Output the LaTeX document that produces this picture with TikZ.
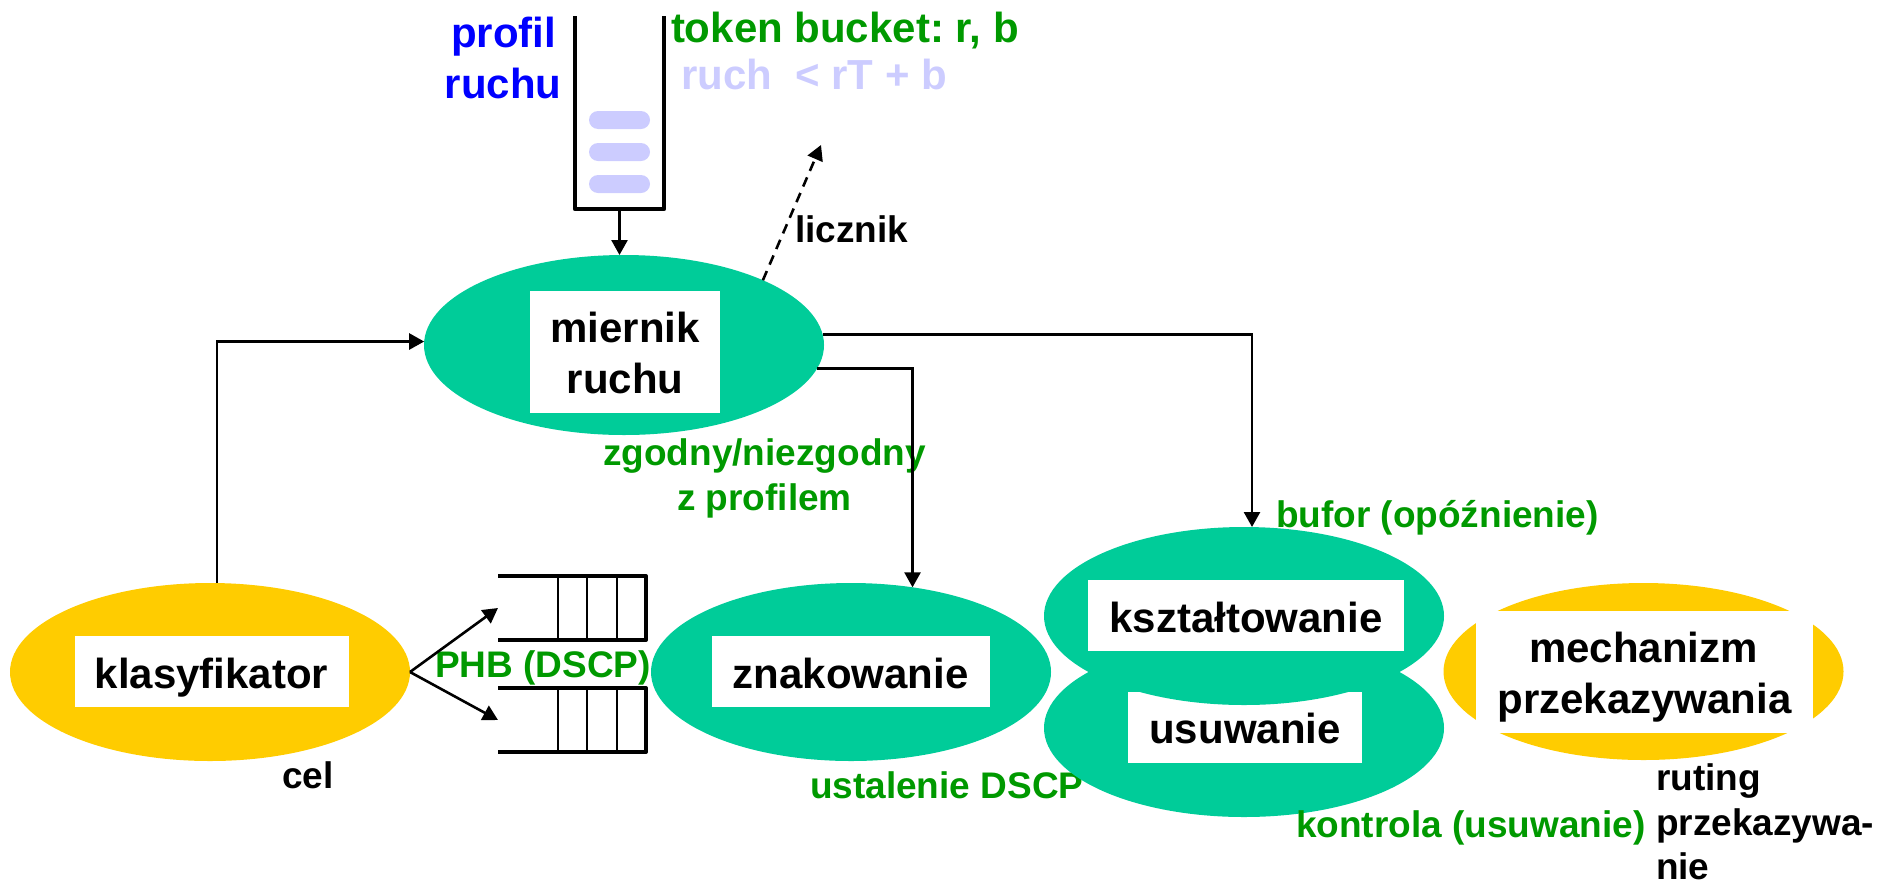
\documentclass[tikz,border=0pt]{standalone}
\usepackage{fontspec}
\setmainfont{Liberation Sans}
\frenchspacing
\usetikzlibrary{shapes.geometric,arrows.meta,calc}
\definecolor{tealfill}{HTML}{00CC99}
\definecolor{goldfill}{HTML}{FFCC00}
\definecolor{labgreen}{HTML}{009900}
\definecolor{profblue}{HTML}{0000FF}
\definecolor{lavender}{HTML}{CCCCFF}
\begin{document}
\begin{tikzpicture}[x=0.5pt,y=-0.5pt,
  blob/.style={ellipse, minimum width=200pt, minimum height=89pt, inner sep=0pt, outer sep=0pt, draw=none},
  greenblob/.style={blob, fill=tealfill},
  yellowblob/.style={blob, fill=goldfill},
  panel/.style={rectangle, fill=white, draw=none, inner sep=0pt, outer sep=0pt},
  bigtxt/.style={font=\fontsize{21}{25}\selectfont\bfseries, inner sep=0pt, outer sep=0pt},
  smalltxt/.style={font=\fontsize{18.5}{22}\selectfont\bfseries, inner sep=0pt, outer sep=0pt},
  arr/.style={line width=1.3pt, -{Triangle[length=7.5pt,width=8pt]}},
  qwall/.style={line width=2pt, line join=round},
  qslot/.style={line width=1pt},
  frame/.style={rectangle, draw=none, inner sep=0pt, outer sep=0pt},
  token/.style={rectangle, rounded corners=4.5pt, fill=lavender, draw=none, minimum width=30.5pt, minimum height=9pt, inner sep=0pt}
]
\useasboundingbox (0,0) rectangle (1882,884);

% token bucket
\node[frame, minimum width=44.5pt, minimum height=96.5pt] (bucket) at (619.5,112.5) {};
\draw[line width=2.25pt, line join=round] (bucket.north west) -- (bucket.south west) -- (bucket.south east) -- (bucket.north east);
\node[token] (tok1) at (619.5,120) {};
\node[token] (tok2) at (619.5,152) {};
\node[token] (tok3) at (619.5,184) {};

\node[bigtxt, text=profblue, anchor=base] (prof1) at (503.5,47) {profil};
\node[bigtxt, text=profblue, anchor=base] (prof2) at (503,98) {ruchu};
\node[bigtxt, text=labgreen, anchor=base west] (tb) at (671,42) {token bucket: r, b};
\node[bigtxt, text=lavender, anchor=base west] (rule) at (681,89) {ruch\ \ < rT + b};

% traffic meter
\node[greenblob, minimum height=90pt] (meter) at (624,345) {};
\node[panel, minimum width=95pt, minimum height=61pt] (meterbox) at (625,352) {};
\node[bigtxt, anchor=base] (meter1) at (625,342) {miernik};
\node[bigtxt, anchor=base] (meter2) at (625,393) {ruchu};

% classifier
\node[yellowblob] (classifier) at (210,672) {};
\node[panel, minimum width=137pt, minimum height=35.5pt] (classbox) at (212,671.5) {};
\node[bigtxt, anchor=base] (classtxt) at (211.5,688) {klasyfikator};
\node[smalltxt, anchor=base west] (cel) at (282,788) {cel};

% queues
\node[frame, minimum width=74pt, minimum height=32pt] (q1) at (572,608) {};
\node[frame, minimum width=74pt, minimum height=32pt] (q2) at (572,720) {};
\foreach \q in {q1,q2}{
  \draw[qwall] (\q.north west) -- (\q.north east) -- (\q.south east) -- (\q.south west);
  \foreach \f in {0.405,0.601,0.804}
    \draw[qslot] ($(\q.north west)!\f!(\q.north east)$) -- ($(\q.south west)!\f!(\q.south east)$);
}
\node[smalltxt, text=labgreen, anchor=base west] (phb) at (435,677) {PHB (DSCP)};

% marker
\node[greenblob] (marker) at (851,672) {};
\node[panel, minimum width=139pt, minimum height=35.5pt] (markbox) at (851,671.5) {};
\node[bigtxt, anchor=base] (marktxt) at (850.5,688) {znakowanie};
\node[smalltxt, text=labgreen, anchor=base west] (dscp) at (810,798) {ustalenie DSCP};

% shaper / dropper
\node[greenblob] (dropper) at (1244,728) {};
\node[panel, minimum width=117pt, minimum height=35.5pt] (dropbox) at (1245,727.5) {};
\node[greenblob] (shaper) at (1244,616) {};
\node[panel, minimum width=158pt, minimum height=35.5pt] (shapebox) at (1246,615.5) {};
\node[bigtxt, anchor=base] (shapetxt) at (1246,632) {kształtowanie};
\node[bigtxt, anchor=base] (droptxt) at (1245,743) {usuwanie};
\node[smalltxt, text=labgreen, anchor=base west] (bufor) at (1276,527) {bufor (opóźnienie)};
\node[smalltxt, text=labgreen, anchor=base west] (kontrola) at (1296,837) {kontrola (usuwanie)};

% forwarding
\node[yellowblob, minimum height=88.5pt] (forwarder) at (1643.5,671.5) {};
\node[panel, minimum width=168.5pt, minimum height=61pt] (fwdbox) at (1644.5,672) {};
\node[bigtxt, anchor=base] (fwd1) at (1643.5,662) {mechanizm};
\node[bigtxt, anchor=base] (fwd2) at (1644.5,713) {przekazywania};
\node[smalltxt, anchor=base west] (rt1) at (1656,790) {ruting};
\node[smalltxt, anchor=base west] (rt2) at (1656,835) {przekazywa-};
\node[smalltxt, anchor=base west] (rt3) at (1656,879) {nie};

% labels near meter
\node[smalltxt, anchor=base west] (licznik) at (795,242) {licznik};
\node[smalltxt, text=labgreen, anchor=base] (zg1) at (764.5,465) {zgodny/niezgodny};
\node[smalltxt, text=labgreen, anchor=base] (zg2) at (764.5,510) {z profilem};

% connectors
\coordinate (countertip) at (821,145);
\draw[arr] (bucket.south) -- (bucket.south |- meter.north);
\draw[arr, dash pattern=on 5pt off 3.5pt] (meter.25) -- (countertip);
\draw[arr] ([xshift=3.5pt]classifier.north) |- (meter.179);
\draw[arr] (meter.3) -| ([xshift=4pt]shaper.north);
\draw[arr] (meter.-7) -| (marker.54);
\draw[arr] (classifier.east) -- (q1.west);
\draw[arr] (classifier.east) -- (q2.west);
\end{tikzpicture}
\end{document}
